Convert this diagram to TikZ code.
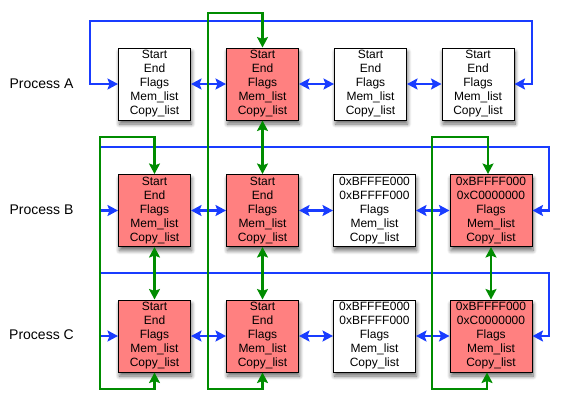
\documentclass[tikz,border=0pt]{standalone}
\usepackage{fontspec}
\setmainfont{Liberation Sans}
\usetikzlibrary{arrows.meta,shadows.blur,calc}
\definecolor{linkblue}{RGB}{25,60,255}
\definecolor{sharegreen}{RGB}{0,140,0}
\definecolor{segred}{RGB}{255,128,128}
\newcommand{\segfields}{Start\\End\\Flags\\Mem\_list\\Copy\_list}
\newcommand{\stackfields}{0xBFFFE000\\0xBFFFF000\\Flags\\Mem\_list\\Copy\_list}
\newcommand{\topfields}{0xBFFFF000\\0xC0000000\\Flags\\Mem\_list\\Copy\_list}
\tikzset{
  segbox/.style={draw,line width=1pt,fill=white,align=center,inner sep=0pt,
    minimum width=72pt,minimum height=72pt,font=\fontsize{12}{14}\selectfont,
    blur shadow={shadow xshift=1pt,shadow yshift=-4pt,shadow blur radius=4pt,
      shadow blur steps=8,shadow opacity=60}},
  redbox/.style={segbox,fill=segred},
  widebox/.style={minimum width=82pt},
  proclabel/.style={font=\fontsize{14}{16}\selectfont},
  blueline/.style={linkblue,line width=2.5pt},
  greenline/.style={sharegreen,line width=2.5pt}
}

\begin{document}
\begin{tikzpicture}[x=1pt,y=-1pt]
			\tikzset{>={Stealth[length=10.5pt,width=11pt,inset=2pt]}}
			\useasboundingbox (0,0) rectangle (561,402);

			\node[proclabel] (PA) at (41.5,84) {Process A};
			\node[proclabel] (PB) at (41.5,210) {Process B};
			\node[proclabel] (PC) at (41.5,335) {Process C};

			\node[segbox] (A1) at (154.5,84) {\segfields};
			\node[redbox] (A2) at (262.5,84) {\segfields};
			\node[segbox] (A3) at (370.5,84) {\segfields};
			\node[segbox] (A4) at (478,84) {\segfields};

			\node[redbox] (B1) at (154.5,210.5) {\segfields};
			\node[redbox] (B2) at (262.5,210.5) {\segfields};
			\node[segbox,widebox] (B3) at (374.5,210.5) {\stackfields};
			\node[redbox,widebox] (B4) at (491,210.5) {\topfields};

			\node[redbox] (C1) at (154.5,336) {\segfields};
			\node[redbox] (C2) at (262.5,336) {\segfields};
			\node[segbox,widebox] (C3) at (374.5,336) {\stackfields};
			\node[redbox,widebox] (C4) at (491,336) {\topfields};

			% list links inside each process
			\draw[blueline,<->] (A1.east) -- (A2.west);
			\draw[blueline,<->] (A2.east) -- (A3.west);
			\draw[blueline,<->] (A3.east) -- (A4.west);
			\draw[blueline,<->] (B1.east) -- (B2.west);
			\draw[blueline,<->] (B2.east) -- (B3.west);
			\draw[blueline,<->] (B3.east) -- (B4.west);
			\draw[blueline,<->] (C1.east) -- (C2.west);
			\draw[blueline,<->] (C2.east) -- (C3.west);
			\draw[blueline,<->] (C3.east) -- (C4.west);

			\coordinate (la) at (90,21);   \coordinate (ra) at (532,21);
			\coordinate (lb) at (100,147); \coordinate (rb) at (549,147);
			\coordinate (lc) at (100,273); \coordinate (rc) at (549,273);
			\draw[blueline,<->] (A1.west) -| (la) -- (ra) |- (A4.east);
			\draw[blueline,<->] (B1.west) -| (lb) -- (rb) |- (B4.east);
			\draw[blueline,<->] (C1.west) -| (lc) -- (rc) |- (C4.east);

			% copy links between processes
			\draw[greenline,<->] (A2.south) -- (B2.north);
			\draw[greenline,<->] (B2.south) -- (C2.north);
			\draw[greenline,<->] (B1.south) -- (C1.north);
			\draw[greenline,<->] (B4.south) -- (C4.north);

			\coordinate (g2) at (208,13);  \coordinate (g2') at (208,389);
			\coordinate (g1) at (100,137); \coordinate (g1') at (100,389);
			\coordinate (g4) at (432,137); \coordinate (g4') at (432,389);
			\draw[greenline,<->] (A2.north) |- (g2) -- (g2') -| (C2.south);
			\draw[greenline,<->] (B1.north) |- (g1) -- (g1') -| (C1.south);
			\draw[greenline,<->] ([xshift=-3pt]B4.north) |- (g4) -- (g4') -| ([xshift=-4pt]C4.south);
		\end{tikzpicture}
\end{document}
